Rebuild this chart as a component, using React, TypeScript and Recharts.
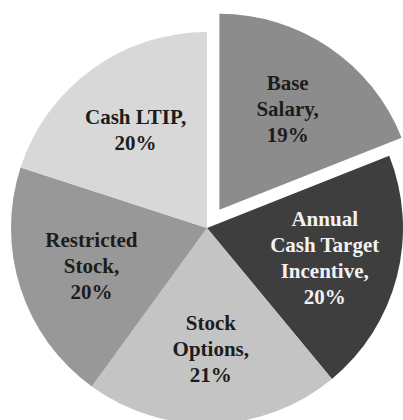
import { Cell, Pie, PieChart } from 'recharts'

const categories = ['Base Salary', 'Annual Cash Target Incentive', 'Stock Options', 'Restricted Stock', 'Cash LTIP']
const shares = [19, 20, 21, 20, 20]
const labelLines = [
  ['Base', 'Salary,', '19%'],
  ['Annual', 'Cash Target', 'Incentive,', '20%'],
  ['Stock', 'Options,', '21%'],
  ['Restricted', 'Stock,', '20%'],
  ['Cash LTIP,', '20%'],
]
const colors = ['#8c8c8c', '#3e3e3e', '#c4c4c4', '#989898', '#d8d8d8']
const textColors = ['#1c1c1c', '#f2f2f2', '#1c1c1c', '#1c1c1c', '#1c1c1c']

const chartData = categories.map((name, i) => ({ name, value: shares[i] }))

const CX = 207
const CY = 228
const R = 196
const EXPLODE = 22
const RAD = Math.PI / 180

// mid angle of the exploded (first) slice, clockwise from 12 o'clock
const total = shares.reduce((a, b) => a + b, 0)
const firstMid = (shares[0] / total / 2) * 360
const ex = CX + EXPLODE * Math.sin(firstMid * RAD)
const ey = CY - EXPLODE * Math.cos(firstMid * RAD)

function makeLabel(only: (i: number) => boolean) {
  return (props: any) => {
    const { cx, cy, midAngle, outerRadius, index } = props
    if (!only(index)) return null
    const r = outerRadius * 0.62
    const x = cx + r * Math.cos(-midAngle * RAD)
    const y = cy + r * Math.sin(-midAngle * RAD)
    const lines = labelLines[index]
    const lh = 26
    const top = y - ((lines.length - 1) * lh) / 2
    return (
      <text
        key={index}
        x={x}
        y={top}
        textAnchor="middle"
        dominantBaseline="central"
        fill={textColors[index]}
        style={{ fontFamily: '"Liberation Serif", "Times New Roman", serif', fontWeight: 700, fontSize: 21 }}
      >
        {lines.map((l, j) => (
          <tspan key={j} x={x} y={top + j * lh}>
            {l}
          </tspan>
        ))}
      </text>
    )
  }
}

export default function App() {
  return (
    <div style={{ width: 403, height: 420, background: '#fff', overflow: 'hidden' }}>
      <style>{`body{margin:0}`}</style>
      <PieChart width={403} height={420} margin={{ top: 0, right: 0, bottom: 0, left: 0 }}>
        <Pie
          data={chartData}
          dataKey="value"
          cx={CX}
          cy={CY}
          outerRadius={R}
          startAngle={90}
          endAngle={-270}
          stroke="none"
          label={makeLabel((i) => i !== 0)}
          labelLine={false}
          isAnimationActive={false}
        >
          {chartData.map((_, i) => (
            <Cell key={i} fill={i === 0 ? 'none' : colors[i]} stroke="none" />
          ))}
        </Pie>
        <Pie
          data={chartData}
          dataKey="value"
          cx={ex}
          cy={ey}
          outerRadius={R}
          startAngle={90}
          endAngle={-270}
          stroke="none"
          label={makeLabel((i) => i === 0)}
          labelLine={false}
          isAnimationActive={false}
        >
          {chartData.map((_, i) => (
            <Cell key={i} fill={i === 0 ? colors[0] : 'none'} stroke="none" />
          ))}
        </Pie>
      </PieChart>
    </div>
  )
}
